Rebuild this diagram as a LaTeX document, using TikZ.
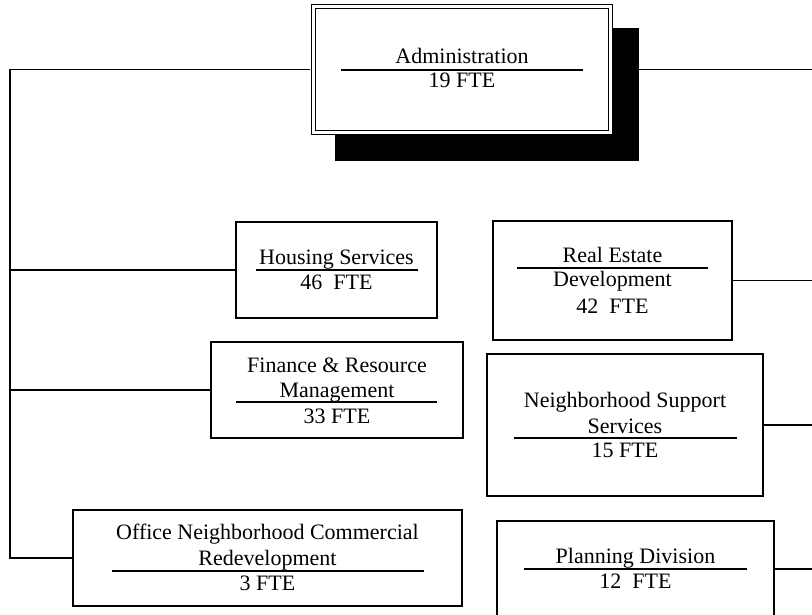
\documentclass[tikz,border=0pt]{standalone}
\usepackage{fontspec}
\setmainfont{Liberation Serif}
\usetikzlibrary{backgrounds}

\tikzset{
  unitbox/.style={draw, line width=1.2pt, rectangle, outer sep=0pt, inner sep=0pt},
  unittext/.style={anchor=base, inner sep=0pt, font=\fontsize{22}{26}\selectfont},
  divline/.style={line width=1.2pt},
  link/.style={line width=1.2pt},
}

\begin{document}
\begin{tikzpicture}[x=1pt,y=1pt,yscale=-1,xscale=1]
    \useasboundingbox (0,0) rectangle (812,615);

    %Shape: Administration box, double border and shadow
    \node [unitbox, fill=white, double, double distance=3.5pt, minimum width=297pt, minimum height=126pt, outer sep=3.25pt] (admin) at (462,69.5) {};
    \begin{scope}[on background layer]
    \fill ([shift={(25,25)}]admin.north west) rectangle ([shift={(25,25)}]admin.south east);
    \end{scope}
    \node [unittext] (admin-t1) at (462,64) {Administration};
    \node [unittext] (admin-t2) at (462,88) {19 FTE};
    \draw [divline] (341,70) -- (583,70);

    %Shape: Housing Services
    \node [unitbox, minimum width=201pt, minimum height=96pt] (housing) at (336.5,270) {};
    \node [unittext] (housing-t1) at (336.5,264) {Housing Services};
    \node [unittext] (housing-t2) at (336.5,289) {46~~FTE};
    \draw [divline] (256,270) -- (418,270);

    %Shape: Finance & Resource Management
    \node [unitbox, minimum width=252pt, minimum height=96pt] (finance) at (337,390) {};
    \node [unittext] (finance-t1) at (337,372) {Finance \& Resource};
    \node [unittext] (finance-t2) at (337,397) {Management};
    \node [unittext] (finance-t3) at (337,423) {33 FTE};
    \draw [divline] (236,402) -- (437,402);

    %Shape: Office Neighborhood Commercial Redevelopment
    \node [unitbox, minimum width=389pt, minimum height=96pt] (office) at (267.5,558) {};
    \node [unittext] (office-t1) at (267.5,539) {Office Neighborhood Commercial};
    \node [unittext] (office-t2) at (267.5,565) {Redevelopment};
    \node [unittext] (office-t3) at (267.5,590) {3 FTE};
    \draw [divline] (112,571) -- (424,571);

    %Shape: Real Estate Development
    \node [unitbox, minimum width=239pt, minimum height=119pt] (realestate) at (612.5,280.5) {};
    \node [unittext] (realestate-t1) at (612.5,262) {Real Estate};
    \node [unittext] (realestate-t2) at (612.5,287) {Development};
    \node [unittext] (realestate-t3) at (612.5,313) {42~~FTE};
    \draw [divline] (517,268) -- (708,268);

    %Shape: Neighborhood Support Services
    \node [unitbox, minimum width=276pt, minimum height=142pt] (support) at (625,425) {};
    \node [unittext] (support-t1) at (625,407) {Neighborhood Support};
    \node [unittext] (support-t2) at (625,433) {Services};
    \node [unittext] (support-t3) at (625,457) {15 FTE};
    \draw [divline] (514,438) -- (737,438);

    %Shape: Planning Division
    \node [unitbox, minimum width=277pt, minimum height=96pt] (planning) at (635.5,569) {};
    \node [unittext] (planning-t1) at (635.5,563) {Planning Division};
    \node [unittext] (planning-t2) at (635.5,588) {12~~FTE};
    \draw [divline] (524,569) -- (747,569);

    %Connectors
    \coordinate (trunk) at (10,69.5);
    \coordinate (redge) at (813,69.5);
    \draw [link] (admin.west) -- (trunk) |- (office.west);
    \draw [link] (housing.west) -- (housing.west -| trunk);
    \draw [link] (finance.west) -- (finance.west -| trunk);
    \draw [link] (admin.east) -- (redge);
    \draw [link] (realestate.east) -- (realestate.east -| redge);
    \draw [link] (support.east) -- (support.east -| redge);
    \draw [link] (planning.east) -- (planning.east -| redge);

\end{tikzpicture}
\end{document}
